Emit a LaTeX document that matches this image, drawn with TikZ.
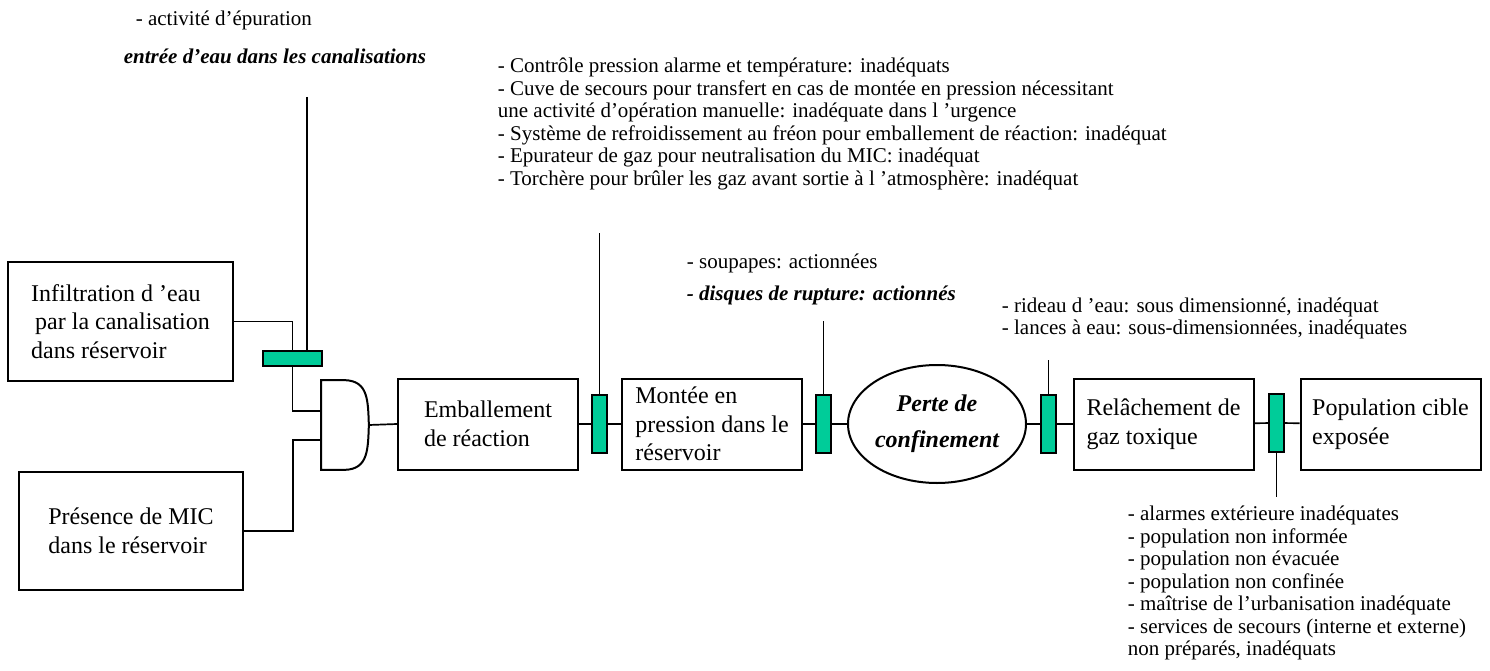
\documentclass[tikz,border=0pt]{standalone}
\usepackage{fontspec}
\setmainfont{Liberation Serif}
\usepackage{tikz}
\usetikzlibrary{shapes.geometric}
\newcommand{\boxfont}{\fontsize{24}{28.5}\selectfont}
\newcommand{\notefont}{\fontsize{21}{22.5}\selectfont}
\definecolor{barrier}{RGB}{0,204,153}

\begin{document}
\begin{tikzpicture}[x=1pt, y=-1pt, line width=1.7pt]
\tikzstyle{block} = [rectangle, draw, line width=2pt, align=left, minimum width=180pt, minimum height=91pt, font=\boxfont]
\tikzstyle{vbar} = [rectangle, draw, fill=barrier, line width=1.8pt, minimum width=15pt, minimum height=58pt, inner sep=0pt]
\tikzstyle{note} = [anchor=west, align=left, inner sep=0pt, font=\notefont]
\useasboundingbox (0,0) rectangle (1490,671);

\node[block, minimum width=225pt, minimum height=119pt] (infil) at (120.5,321.5) {Infiltration d ’eau\\\hspace*{4pt}par la canalisation\\dans réservoir};
\node[block, minimum width=224pt, minimum height=118pt] (mic) at (131,531) {Présence de MIC\\dans le réservoir};
\node[rectangle, draw, fill=barrier, line width=1.8pt, minimum width=59pt, minimum height=15pt, inner sep=0pt] (b0) at (292.5,358.5) {};
\node[minimum width=46pt, minimum height=88pt, inner sep=0pt] (gate) at (345,425) {};
\node[block] (emb) at (488,424) {Emballement\\de réaction};
\node[vbar] (b1) at (599.5,424) {};
\node[block] (montee) at (712,424) {Montée en\\pression dans le\\réservoir};
\node[vbar] (b2) at (823.5,424) {};
\node[ellipse, draw, line width=2pt, minimum width=178pt, minimum height=118pt, inner sep=0pt, align=center, font=\fontsize{24}{36}\selectfont\bfseries\itshape] (perte) at (937,424) {Perte de\\confinement};
\node[vbar] (b3) at (1048.5,424) {};
\node[block] (relache) at (1163.5,424) {Relâchement de\\gaz toxique};
\node[vbar] (b4) at (1276.5,423) {};
\node[block] (pop) at (1390.5,424) {Population cible\\exposée};

\node[note] (epur) at (135,20) {- activité d’épuration};
\node[note, font=\notefont\bfseries\itshape] (entree) at (123,56) {entrée d’eau dans les canalisations};
\node[note] (controle) at (497,124) {- Contrôle pression alarme et température: inadéquats\\- Cuve de secours pour transfert en cas de montée en pression nécessitant\\une activité d’opération manuelle: inadéquate dans l ’urgence\\- Système de refroidissement au fréon pour emballement de réaction: inadéquat\\- Epurateur de gaz pour neutralisation du MIC: inadéquat\\- Torchère pour brûler les gaz avant sortie à l ’atmosphère: inadéquat};
\node[note] (soupapes) at (686,263) {- soupapes: actionnées};
\node[note, font=\notefont\bfseries\itshape] (disques) at (686,295) {- disques de rupture: actionnés};
\node[note] (rideau) at (1001,318.5) {- rideau d ’eau: sous dimensionné, inadéquat\\- lances à eau: sous-dimensionnées, inadéquates};
\node[note] (alarmes) at (1127,583) {- alarmes extérieure inadéquates\\- population non informée\\- population non évacuée\\- population non confinée\\- maîtrise de l’urbanisation inadéquate\\- services de secours (interne et externe)\\non préparés, inadéquats};

\coordinate (in1) at (322,411);
\coordinate (in2) at (322,440);
\coordinate (j2) at (293,440);
\coordinate (t0) at (307,97);
\coordinate (t1) at (599.5,233);
\coordinate (t2) at (823.5,321);
\coordinate (t3) at (1048.5,360);
\coordinate (t4) at (1276.5,497);

\draw[line width=2pt] (gate.north west) -- (gate.north) .. controls (368,381) and (368,400) .. (gate.east) .. controls (368,450) and (368,469) .. (gate.south) -- (gate.south west) -- cycle;

\draw (infil.east) -| (b0.north);
\draw (b0.south) |- (in1);
\draw (mic.east) -| (j2) -- (in2);
\draw (t0) -- (t0 |- b0.north);
\draw (gate.east) -- (emb.west);
\draw (emb) -- (b1);
\draw (b1) -- (montee);
\draw (montee) -- (b2);
\draw (b2) -- (perte);
\draw (perte) -- (b3);
\draw (b3) -- (relache);
\draw (relache) -- (b4);
\draw (b4) -- (pop);
\draw (t1) -- (b1.north);
\draw (t2) -- (b2.north);
\draw (t3) -- (b3.north);
\draw (b4.south) -- (t4);

\end{tikzpicture}
\end{document}
